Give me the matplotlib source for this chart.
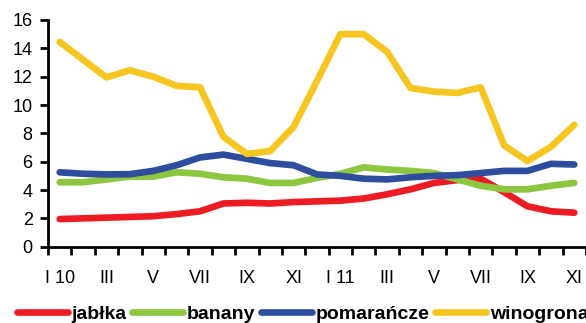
import numpy as np
import matplotlib
matplotlib.use("Agg")
from matplotlib import pyplot as plt

plt.rcParams['font.family'] = ['Liberation Sans', 'DejaVu Sans']

# monthly prices, I 2010 .. XI 2011
months = ["I 10", "II", "III", "IV", "V", "VI", "VII", "VIII", "IX", "X", "XI", "XII",
          "I 11", "II", "III", "IV", "V", "VI", "VII", "VIII", "IX", "X", "XI"]
jablka = [1.95, 2.0, 2.05, 2.1, 2.15, 2.3, 2.5, 3.05, 3.1, 3.05, 3.15, 3.2,
          3.25, 3.4, 3.7, 4.05, 4.5, 4.7, 4.8, 3.85, 2.85, 2.5, 2.4]
banany = [4.55, 4.55, 4.75, 4.95, 4.95, 5.25, 5.15, 4.9, 4.8, 4.5, 4.5, 4.85,
          5.15, 5.6, 5.45, 5.35, 5.2, 4.75, 4.3, 4.05, 4.05, 4.3, 4.5]
pomarancze = [5.25, 5.15, 5.1, 5.12, 5.35, 5.75, 6.3, 6.5, 6.2, 5.9, 5.75, 5.1,
              5.0, 4.8, 4.75, 4.9, 5.0, 5.05, 5.2, 5.35, 5.35, 5.85, 5.8]
winogrona = [14.45, 13.2, 11.95, 12.45, 12.0, 11.35, 11.25, 7.75, 6.55, 6.75, 8.45, 11.7,
             15.0, 15.0, 13.75, 11.2, 10.95, 10.85, 11.25, 7.15, 6.05, 7.05, 8.6]

series = [("jabłka", jablka, "#ED1C24"),
          ("banany", banany, "#8DC63F"),
          ("pomarańcze", pomarancze, "#2E4D9F"),
          ("winogrona", winogrona, "#F6C51F")]

fig = plt.figure(figsize=(5.86, 3.23), dpi=100)
# axes runs off the right edge, last months are cut
ax = fig.add_axes([48/586, 76.3/323, 538/586, 226.7/323])

x = np.arange(len(months))
for name, vals, col in series:
    ax.plot(x, vals, color=col, lw=4.8, label=name,
            solid_capstyle='round', solid_joinstyle='round')

ax.set_xlim(-0.5, 22.3)
ax.set_ylim(0, 16)
ax.set_yticks(np.arange(0, 17, 2))

# labels on every other month, tick marks between categories
ax.set_xticks(x[::2])
ax.set_xticklabels(months[::2])
ax.set_xticks(np.arange(-0.5, 23, 1), minor=True)
ax.tick_params(axis='x', which='major', length=0, pad=16.5, labelsize=13)
ax.tick_params(axis='x', which='minor', length=6, width=2, direction='out')
ax.tick_params(axis='y', length=6, width=2, direction='out', pad=5, labelsize=13)

for s in ['top', 'right']:
    ax.spines[s].set_visible(False)
for s in ['left', 'bottom']:
    ax.spines[s].set_linewidth(2)

fig.legend(loc='center left', bbox_to_anchor=(17/586, 1 - 314/323), ncol=4,
           frameon=False, borderpad=0, borderaxespad=0, handlelength=2.6,
           handletextpad=0.2, columnspacing=0.3, prop={'weight': 'bold', 'size': 14})

fig.savefig("out.png", dpi=100)
